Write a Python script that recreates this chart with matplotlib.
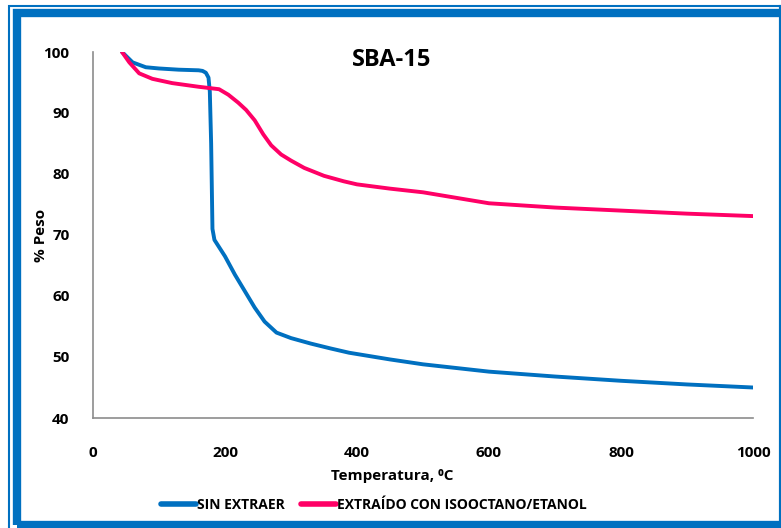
import matplotlib.pyplot as plt
from matplotlib.patches import Rectangle
from matplotlib.lines import Line2D

# datos (TGA SBA-15)
temp_sin = [44, 60, 80, 100, 130, 160, 166, 171, 175, 177, 179, 181, 184, 200, 215, 230, 245, 260, 278,
            300, 330, 360, 388, 450, 500, 600, 700, 800, 900, 1000]
peso_sin = [100, 98.3, 97.5, 97.3, 97.1, 97.0, 96.9, 96.6, 95.8, 93.5, 85, 71, 69.2, 66.5, 63.5, 60.8, 58.1,
            55.8, 54.0, 53.1, 52.2, 51.4, 50.7, 49.6, 48.8, 47.6, 46.8, 46.1, 45.5, 45.0]

temp_ext = [44, 55, 70, 90, 120, 160, 191, 205, 220, 232, 245, 258, 270, 285, 300, 320, 350, 380, 400,
            450, 500, 600, 700, 800, 900, 1000]
peso_ext = [100, 98.3, 96.5, 95.6, 94.9, 94.3, 93.9, 93.0, 91.7, 90.5, 88.8, 86.5, 84.7, 83.2, 82.2, 81.0,
            79.7, 78.8, 78.3, 77.6, 77.0, 75.2, 74.5, 74.0, 73.5, 73.1]

x_ticks = [0, 200, 400, 600, 800, 1000]
y_ticks = [40, 50, 60, 70, 80, 90, 100]

azul = "#0070C0"
rosa = "#FF0066"
fuente = "Open Sans"
W, H = 781, 528

fig = plt.figure(figsize=(7.81, 5.28), dpi=100)

# marco doble azul
fig.add_artist(Rectangle((9 / W, -10 / H), 771 / W, (H + 4) / H, transform=fig.transFigure,
                         fill=False, edgecolor=azul, linewidth=1.5))
fig.add_artist(Rectangle((16.5 / W, 3.5 / H), 800 / W, 511.5 / H, transform=fig.transFigure,
                         fill=False, edgecolor=azul, linewidth=6))
fig.add_artist(Line2D([779.5 / W] * 2, [0, 1 - 6 / H], transform=fig.transFigure,
                      color=azul, linewidth=1.5))

ax = fig.add_axes([93 / W, 1 - 418 / H, 660 / W, 366 / H])
ax.plot(temp_sin, peso_sin, color=azul, linewidth=2.8, solid_capstyle="round",
        solid_joinstyle="round", label="SIN EXTRAER")
ax.plot(temp_ext, peso_ext, color=rosa, linewidth=2.8, solid_capstyle="round",
        solid_joinstyle="round", label="EXTRAÍDO CON ISOOCTANO/ETANOL")

ax.set_xlim(0, 1000)
ax.set_ylim(40, 100)
ax.set_xticks(x_ticks)
ax.set_yticks(y_ticks)
for s in ["top", "right"]:
    ax.spines[s].set_visible(False)
for s in ["left", "bottom"]:
    ax.spines[s].set_color("#8C8C8C")
    ax.spines[s].set_linewidth(1.2)
ax.tick_params(axis="both", length=0, labelsize=11)
ax.tick_params(axis="y", pad=17)
ax.tick_params(axis="x", pad=20)
for lbl in ax.get_xticklabels() + ax.get_yticklabels():
    lbl.set_fontweight("bold")
    lbl.set_fontfamily(fuente)

ax.set_xlabel("Temperatura, ⁰C", fontsize=11, fontweight="bold", family=fuente)
ax.xaxis.set_label_coords((392 - 93) / 660, -(469 - 418) / 366)
ax.set_ylabel("% Peso", fontsize=11, fontweight="bold", family=fuente)
ax.yaxis.set_label_coords((48 - 93) / 660, (418 - 235) / 366)
ax.text((392 - 93) / 660, (418 - 60) / 366, "SBA-15", transform=ax.transAxes,
        ha="center", va="center", fontsize=17, fontweight="bold", family=fuente)

handles = [Line2D([], [], color=azul, linewidth=4, solid_capstyle="round"),
           Line2D([], [], color=rosa, linewidth=4, solid_capstyle="round")]
fig.legend(handles, ["SIN EXTRAER", "EXTRAÍDO CON ISOOCTANO/ETANOL"],
           loc="center", bbox_to_anchor=(374 / W, 1 - 505 / H), ncol=2,
           frameon=False, handlelength=2.5, handletextpad=0.1, columnspacing=1.2,
           prop={"family": fuente, "weight": "bold", "size": 10})

fig.savefig("out.png", dpi=100)
